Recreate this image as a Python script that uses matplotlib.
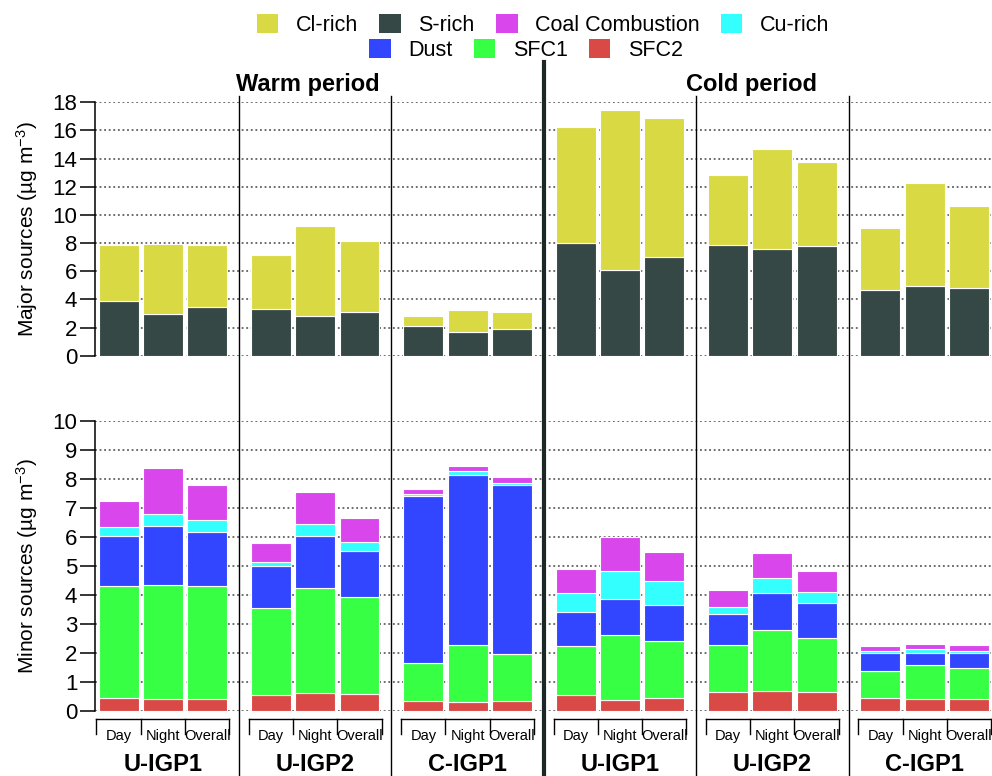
import numpy as np
import matplotlib
matplotlib.use('Agg')
from matplotlib import pyplot as plt
from matplotlib.patches import Patch
from matplotlib.transforms import blended_transform_factory

plt.rcParams['font.family'] = ['Liberation Sans', 'DejaVu Sans']
plt.rcParams['mathtext.default'] = 'regular'

# Data, order: 6 site/period groups x (Day, Night, Overall)
sites = ['U-IGP1', 'U-IGP2', 'C-IGP1', 'U-IGP1', 'U-IGP2', 'C-IGP1']
times = ['Day', 'Night', 'Overall']

s_rich = [3.91, 2.94, 3.44, 3.34, 2.84, 3.10, 2.11, 1.71, 1.87,
          8.01, 6.11, 7.04, 7.84, 7.61, 7.80, 4.64, 4.98, 4.83]
cl_rich = [3.96, 5.02, 4.43, 3.79, 6.40, 5.08, 0.73, 1.54, 1.23,
           8.20, 11.33, 9.83, 5.00, 7.06, 5.97, 4.46, 7.29, 5.81]

sfc2 = [0.45, 0.40, 0.40, 0.53, 0.61, 0.56, 0.32, 0.29, 0.32,
        0.53, 0.37, 0.45, 0.64, 0.68, 0.64, 0.45, 0.40, 0.40]
sfc1 = [3.86, 3.94, 3.91, 3.02, 3.62, 3.35, 1.31, 1.99, 1.63,
        1.71, 2.23, 1.95, 1.64, 2.11, 1.88, 0.91, 1.16, 1.08]
dust = [1.71, 2.04, 1.86, 1.44, 1.79, 1.60, 5.78, 5.86, 5.82,
        1.16, 1.27, 1.23, 1.06, 1.28, 1.19, 0.64, 0.44, 0.52]
cu_rich = [0.31, 0.39, 0.40, 0.15, 0.43, 0.31, 0.06, 0.11, 0.08,
           0.67, 0.96, 0.83, 0.25, 0.50, 0.39, 0.05, 0.13, 0.07]
coal = [0.89, 1.60, 1.20, 0.64, 1.08, 0.84, 0.19, 0.20, 0.20,
        0.83, 1.16, 1.00, 0.59, 0.86, 0.73, 0.18, 0.18, 0.21]

colors = {'Cl-rich': '#d9d944', 'S-rich': '#354845', 'Coal Combustion': '#d846ec',
          'Cu-rich': '#33ffff', 'Dust': '#3346ff', 'SFC1': '#36ff44', 'SFC2': '#d94a46'}

# bar positions
pitch = 3.44
x = np.array([g * pitch + k for g in range(6) for k in range(3)])
width = 0.9

fig = plt.figure(figsize=(9.92, 7.76), dpi=100)
ax1 = fig.add_axes([0.0962, 0.5416, 0.9038, 0.3266])
ax2 = fig.add_axes([0.0962, 0.0841, 0.9038, 0.3737])

grid_kw = dict(color='#444444', linestyle=(0, (1.2, 1.8)), linewidth=1.1)
for ax, top in [(ax1, 18), (ax2, 10)]:
    ax.set_xlim(-0.524, 19.72)
    ax.set_ylim(0, top)
    ax.set_axisbelow(True)
    ax.yaxis.grid(True, **grid_kw)
    for s in ['top', 'right', 'bottom']:
        ax.spines[s].set_visible(False)
    ax.spines['left'].set_linewidth(1.1)
    ax.set_xticks([])
    ax.tick_params(axis='y', length=11, width=1.1, labelsize=16, pad=2)

ax1.set_yticks(np.arange(0, 19, 2))
ax2.set_yticks(np.arange(0, 11, 1))

# top panel: major sources
ax1.bar(x, s_rich, width, color=colors['S-rich'], edgecolor='white', linewidth=0.8)
ax1.bar(x, cl_rich, width, bottom=s_rich, color=colors['Cl-rich'], edgecolor='white', linewidth=0.8)

# bottom panel: minor sources
bottom = np.zeros(len(x))
for name, vals in [('SFC2', sfc2), ('SFC1', sfc1), ('Dust', dust),
                   ('Cu-rich', cu_rich), ('Coal Combustion', coal)]:
    ax2.bar(x, vals, width, bottom=bottom, color=colors[name], edgecolor='white', linewidth=0.8)
    bottom += np.array(vals)

ax1.set_ylabel('Major sources (µg m$^{-3}$)', fontsize=15)
ax2.set_ylabel('Minor sources (µg m$^{-3}$)', fontsize=15)
ax1.yaxis.set_label_coords(-0.062, 0.5)
ax2.yaxis.set_label_coords(-0.062, 0.5)

# group brackets and labels below the bottom panel
tr = blended_transform_factory(ax2.transData, ax2.transAxes)
for g in range(6):
    c = g * pitch
    edges = c - 0.5 + np.arange(4)
    ax2.plot([edges[0], edges[-1]], [-0.029, -0.029], color='black', lw=1.0,
             transform=tr, clip_on=False)
    for e in edges:
        ax2.plot([e, e], [-0.029, -0.079], color='black', lw=1.0,
                 transform=tr, clip_on=False)
    for k, t in enumerate(times):
        ax2.text(c + k, -0.087, t, transform=tr, ha='center', va='center', fontsize=10.5)
    ax2.text(c + 1, -0.187, sites[g], transform=tr, ha='center', va='center',
             fontsize=17, fontweight='bold')

# separators between groups
trf = blended_transform_factory(ax1.transData, fig.transFigure)
for g in range(5):
    xs = g * pitch + 2 + (pitch - 2) / 2
    if g == 2:
        fig.add_artist(plt.Line2D([xs, xs], [0, 0.92], color='#1c2826', lw=3.0, transform=trf))
    else:
        fig.add_artist(plt.Line2D([xs, xs], [0, 0.876], color='black', lw=1.0, transform=trf))

fig.text(308 / 992, 1 - 85 / 776, 'Warm period', ha='center', va='center',
         fontsize=17, fontweight='bold')
fig.text(752 / 992, 1 - 85 / 776, 'Cold period', ha='center', va='center',
         fontsize=17, fontweight='bold')

# legend in two rows
row1 = ['Cl-rich', 'S-rich', 'Coal Combustion', 'Cu-rich']
row2 = ['Dust', 'SFC1', 'SFC2']
leg_kw = dict(frameon=False, fontsize=15.5, handlelength=1.0, handleheight=1.0,
              handletextpad=0.8, columnspacing=1.0, borderpad=0, borderaxespad=0)
fig.legend([Patch(facecolor=colors[n]) for n in row1], row1, ncol=4,
           loc='center', bbox_to_anchor=(543 / 992, 1 - 25 / 776), **leg_kw)
fig.legend([Patch(facecolor=colors[n]) for n in row2], row2, ncol=3,
           loc='center', bbox_to_anchor=(526 / 992, 1 - 50 / 776), **leg_kw)

fig.savefig('out.png', dpi=100)
